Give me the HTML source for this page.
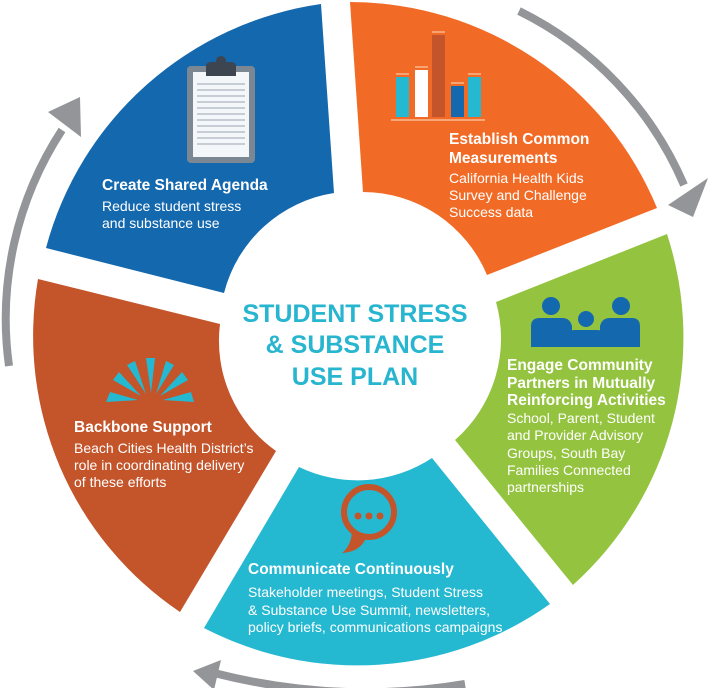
<!DOCTYPE html>
<html><head><meta charset="utf-8"><style>
html,body{margin:0;padding:0;background:#fff}
svg{display:block}
text{font-family:"Liberation Sans",sans-serif;fill:#fff}
.t{font-weight:bold;font-size:15.5px}
.b{font-size:14px}
.c{font-weight:bold;font-size:25px;fill:#27b5d0}
</style></head><body>
<svg width="708" height="688" viewBox="0 0 708 688" xmlns="http://www.w3.org/2000/svg">
<!-- arrows -->
<g fill="none" stroke="#939598" stroke-width="8">
<path d="M519 11 A345 345 0 0 1 684 185"/>
<path d="M465 684 Q340 705 214 673"/>
<path d="M9 366 A345 345 0 0 1 62 130"/>
</g>
<g fill="#939598">
<polygon points="668,205 708,178 693,217"/>
<polygon points="221,660 214,690 193,671"/>
<polygon points="48,112 80,97 81,137"/>
</g>
<!-- segments -->
<path d="M46 248 A333 333 0 0 1 321 4 L334 193 A135 135 0 0 0 224 293 Z" fill="#1468ae"/>
<path d="M350 2 A333 333 0 0 1 657 208 L487 275 A135 135 0 0 0 363 192 Z" fill="#f26b26"/>
<path d="M667 234 A333 333 0 0 1 573 585 L455 440 A135 135 0 0 0 496 302 Z" fill="#94c43f"/>
<path d="M550 604 A333 333 0 0 1 204 628 L299 467 A135 135 0 0 0 432 458 Z" fill="#25b8d1"/>
<path d="M180 612 A333 333 0 0 1 38 279 L220 324 A135 135 0 0 0 276 451 Z" fill="#c4542a"/>
<!-- clipboard -->
<rect x="187" y="66" width="68" height="97" rx="4" fill="#7b8894"/>
<rect x="193" y="72" width="56" height="85" fill="#f4f7fa"/>
<g stroke="#aab4be" stroke-width="1.2">
<line x1="197" y1="84" x2="245" y2="84"/><line x1="197" y1="90" x2="245" y2="90"/><line x1="197" y1="96" x2="245" y2="96"/><line x1="197" y1="102" x2="245" y2="102"/><line x1="197" y1="108" x2="245" y2="108"/><line x1="197" y1="114" x2="245" y2="114"/><line x1="197" y1="120" x2="245" y2="120"/><line x1="197" y1="126" x2="245" y2="126"/><line x1="197" y1="132" x2="245" y2="132"/><line x1="197" y1="138" x2="245" y2="138"/><line x1="197" y1="144" x2="245" y2="144"/>
</g>
<path d="M206 76 L206 66 Q206 62 212 62 L230 62 Q236 62 236 66 L236 76 Z" fill="#3d4650"/>
<circle cx="221" cy="61" r="5" fill="#3d4650"/>
<!-- bar chart -->
<rect x="396" y="77" width="13" height="40" fill="#25b8d1"/>
<rect x="415" y="70" width="13" height="47" fill="#fff"/>
<rect x="432" y="35" width="13" height="82" fill="#c4542a"/>
<rect x="451" y="86" width="13" height="31" fill="#1468ae"/>
<rect x="468" y="77" width="13" height="40" fill="#25b8d1"/>
<g stroke="#f9c9a8" stroke-width="1.2">
<line x1="396" y1="74" x2="409" y2="74"/><line x1="415" y1="67" x2="428" y2="67"/><line x1="432" y1="32" x2="445" y2="32"/><line x1="451" y1="83" x2="464" y2="83"/><line x1="468" y1="74" x2="481" y2="74"/><line x1="391" y1="120" x2="485" y2="120"/>
</g>
<!-- people -->
<g fill="#1468ae">
<circle cx="551" cy="306" r="9"/><circle cx="621" cy="306" r="9"/><circle cx="586" cy="319" r="8"/>
<path d="M531 347 L531 326 Q531 318 540 318 L562 318 Q570 318 572 326 L572 347 Z"/>
<path d="M600 347 L600 326 Q602 318 610 318 L632 318 Q640 318 640 326 L640 347 Z"/>
<path d="M568 347 L568 336 Q568 330 575 330 L597 330 Q604 330 604 336 L604 347 Z"/>
</g>
<!-- sunburst -->
<g fill="#25b8d1">
<path d="M106 402 L110 392 L138 400 Z"/>
<path d="M113 380 L119 372 L141 396 Z"/>
<path d="M127 365 L135 361 L146 394 Z"/>
<path d="M146 358 L155 358 L151 393 Z"/>
<path d="M166 361 L174 365 L156 394 Z"/>
<path d="M182 372 L188 380 L160 396 Z"/>
<path d="M191 392 L194 402 L163 400 Z"/>
</g>
<!-- speech bubble -->
<circle cx="369" cy="512" r="25" fill="none" stroke="#c4542a" stroke-width="6"/>
<path d="M352 529 Q352 545 342 553 Q360 552 366 538 Z" fill="#c4542a"/>
<circle cx="358" cy="516" r="3.5" fill="#c4542a"/><circle cx="369" cy="516" r="3.5" fill="#c4542a"/><circle cx="380" cy="516" r="3.5" fill="#c4542a"/>
<!-- text -->
<text class="t" x="102" y="190">Create Shared Agenda</text>
<text class="b" x="102" y="211">Reduce student stress</text>
<text class="b" x="102" y="228">and substance use</text>
<text class="t" x="449" y="144">Establish Common</text>
<text class="t" x="449" y="163">Measurements</text>
<text class="b" x="449" y="183">California Health Kids</text>
<text class="b" x="449" y="200">Survey and Challenge</text>
<text class="b" x="449" y="217">Success data</text>
<text class="t" x="507" y="370">Engage Community</text>
<text class="t" x="507" y="388">Partners in Mutually</text>
<text class="t" x="507" y="405">Reinforcing Activities</text>
<text class="b" x="507" y="423">School, Parent, Student</text>
<text class="b" x="507" y="440">and Provider Advisory</text>
<text class="b" x="507" y="458">Groups, South Bay</text>
<text class="b" x="507" y="475">Families Connected</text>
<text class="b" x="507" y="492">partnerships</text>
<text class="t" x="74" y="432">Backbone Support</text>
<text class="b" x="74" y="453">Beach Cities Health District’s</text>
<text class="b" x="74" y="470">role in coordinating delivery</text>
<text class="b" x="74" y="487">of these efforts</text>
<text class="t" x="248" y="574">Communicate Continuously</text>
<text class="b" x="248" y="597">Stakeholder meetings, Student Stress</text>
<text class="b" x="248" y="615">&amp; Substance Use Summit, newsletters,</text>
<text class="b" x="248" y="632">policy briefs, communications campaigns</text>
<text class="c" x="355" y="322" text-anchor="middle">STUDENT STRESS</text>
<text class="c" x="355" y="353" text-anchor="middle">&amp; SUBSTANCE</text>
<text class="c" x="355" y="385" text-anchor="middle">USE PLAN</text>
</svg>
</body></html>
